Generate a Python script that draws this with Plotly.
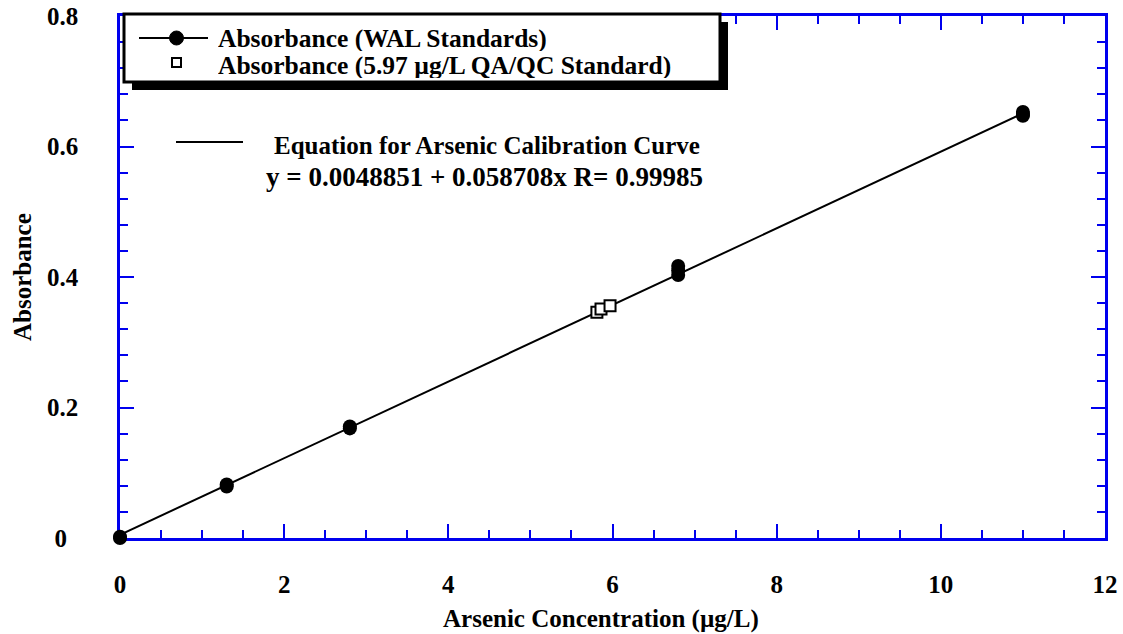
import plotly.graph_objects as go

# ---------------- data ----------------
wal_conc = [0.0, 0.0, 1.3, 1.3, 2.8, 2.8, 6.8, 6.8, 6.8, 11.0, 11.0, 11.0]
wal_abs = [0.000, 0.002, 0.079, 0.082, 0.168, 0.171, 0.403, 0.410, 0.417, 0.647, 0.650, 0.653]

qc_conc = [5.81, 5.86, 5.97]
qc_abs = [0.346, 0.351, 0.356]

fit_conc = [0.0, 11.0]
fit_abs = [0.0049, 0.6507]

x_tick_vals = [0, 2, 4, 6, 8, 10, 12]
y_tick_vals = [0, 0.2, 0.4, 0.6, 0.8]
y_tick_text = ["0\u00a0\u2009", "0.2", "0.4", "0.6", "0.8"]

legend_labels = ["Absorbance (WAL Standards)", "Absorbance (5.97 \u00b5g/L QA/QC Standard)"]
eq_title = "Equation for Arsenic Calibration Curve"
eq_text = "y = 0.0048851 + 0.058708x R= 0.99985"
x_title = "Arsenic Concentration (\u00b5g/L)"
y_title = "Absorbance"

# ---------------- layout helpers ----------------
W, H = 1123, 634
L, R, T, B = 120, 18, 16, 96
PW = W - L - R
PH = H - T - B
FONT = "Liberation Serif, Times New Roman, serif"
BLUE = "#0000ee"


def px(x):
    return (x - L) / PW


def py(y):
    return (H - B - y) / PH


fig = go.Figure()

fig.add_trace(go.Scatter(x=fit_conc, y=fit_abs, mode="lines",
                         line=dict(color="black", width=2), showlegend=False,
                         hoverinfo="skip"))
fig.add_trace(go.Scatter(x=wal_conc, y=wal_abs, mode="markers",
                         marker=dict(symbol="circle", size=14, color="black"),
                         cliponaxis=False, showlegend=False, name=legend_labels[0]))
fig.add_trace(go.Scatter(x=qc_conc, y=qc_abs, mode="markers",
                         marker=dict(symbol="square", size=11, color="white",
                                     line=dict(color="black", width=2)),
                         cliponaxis=False, showlegend=False, name=legend_labels[1]))

tickfont = dict(family=FONT, size=25, color="black", weight="bold")

fig.update_xaxes(range=[0, 12], tickmode="array", tickvals=x_tick_vals,
                 ticks="inside", ticklen=14, tickwidth=2, tickcolor=BLUE,
                 showline=True, linecolor=BLUE, linewidth=2.5, mirror="ticks",
                 showgrid=False, zeroline=False, tickfont=tickfont,
                 ticklabelstandoff=22, layer="below traces", automargin=False,
                 minor=dict(tickmode="linear", tick0=0, dtick=0.5, ticks="inside",
                            ticklen=8, tickwidth=2, tickcolor=BLUE, showgrid=False))
fig.update_yaxes(range=[0, 0.8], tickmode="array", tickvals=y_tick_vals,
                 ticktext=y_tick_text,
                 ticks="inside", ticklen=14, tickwidth=2, tickcolor=BLUE,
                 showline=True, linecolor=BLUE, linewidth=2.5, mirror="ticks",
                 showgrid=False, zeroline=False, tickfont=tickfont,
                 ticklabelstandoff=34, layer="below traces", automargin=False,
                 minor=dict(tickmode="linear", tick0=0, dtick=0.04, ticks="inside",
                            ticklen=8, tickwidth=2, tickcolor=BLUE, showgrid=False))

shapes = []
# legend box with drop shadow
bx0, by0, bx1, by1 = 124, 14, 720, 82
sh = 8
shapes.append(dict(type="rect", xref="paper", yref="paper",
                   x0=px(bx0 + sh), x1=px(bx1 + sh), y0=py(by1 + sh), y1=py(by0 + sh),
                   fillcolor="black", line=dict(width=0)))
shapes.append(dict(type="rect", xref="paper", yref="paper",
                   x0=px(bx0), x1=px(bx1), y0=py(by1), y1=py(by0),
                   fillcolor="white", line=dict(color="black", width=3)))
# legend row 1 symbol
shapes.append(dict(type="line", xref="paper", yref="paper",
                   x0=px(139), x1=px(208), y0=py(38), y1=py(38),
                   line=dict(color="black", width=2)))
shapes.append(dict(type="circle", xref="paper", yref="paper",
                   x0=px(169.5), x1=px(183.5), y0=py(45), y1=py(31),
                   fillcolor="black", line=dict(color="black", width=1)))
# legend row 2 symbol
shapes.append(dict(type="rect", xref="paper", yref="paper",
                   x0=px(172), x1=px(181), y0=py(67), y1=py(58),
                   fillcolor="white", line=dict(color="black", width=2)))
# equation line sample
shapes.append(dict(type="line", xref="paper", yref="paper",
                   x0=px(176), x1=px(243), y0=py(142), y1=py(142),
                   line=dict(color="black", width=2)))


def tf(size):
    return dict(family=FONT, size=size, color="black", weight="bold")


annotations = [
    dict(x=px(217), y=py(38), text=legend_labels[0], xanchor="left", yanchor="middle",
         font=tf(25.5), height=25, valign="middle", borderpad=0),
    dict(x=px(217), y=py(65), text=legend_labels[1], xanchor="left", yanchor="middle",
         font=tf(25.5), height=25, valign="middle", borderpad=0),
    dict(x=px(487), y=py(145), text=eq_title, xanchor="center", yanchor="middle", font=tf(25)),
    dict(x=px(484), y=py(177), text=eq_text, xanchor="center", yanchor="middle", font=tf(27)),
    dict(x=px(601), y=py(619), text=x_title, xanchor="center", yanchor="middle", font=tf(25)),
    dict(x=px(22), y=py(277), text=y_title, xanchor="center", yanchor="middle",
         textangle=-90, font=tf(25)),
]
for a in annotations:
    a.update(xref="paper", yref="paper", showarrow=False)

fig.update_layout(width=W, height=H, margin=dict(l=L, r=R, t=T, b=B),
                  plot_bgcolor="white", paper_bgcolor="white",
                  shapes=shapes, annotations=annotations, showlegend=False)

fig.write_html("out.html")
